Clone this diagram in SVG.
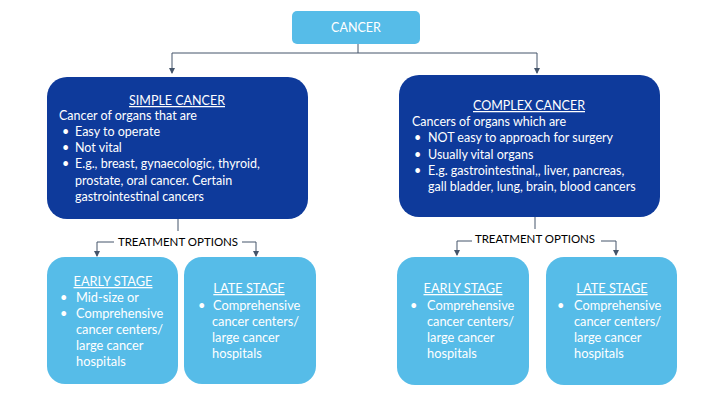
<svg xmlns="http://www.w3.org/2000/svg" width="720" height="405" viewBox="0 0 720 405">
<defs>
<marker id="ah" markerWidth="6" markerHeight="6" refX="5" refY="3" orient="auto" markerUnits="userSpaceOnUse">
<path d="M0,0 L6,3 L0,6 z" fill="#44546a"/>
</marker>
<style>
.light{fill:#56bce8}
.dark{fill:#0e3a9b}
text{font-family:Lato,"Liberation Sans",sans-serif;fill:#ffffff}
.b{font-size:12.5px}
.s{font-size:12.8px}
.t{text-anchor:middle;text-decoration:underline}
.lbl{font-size:11.5px;fill:#000000;text-anchor:middle}
.c{stroke:#44546a;stroke-width:1;fill:none}
</style>
</defs>
<rect width="720" height="405" fill="#ffffff"/>
<g id="connectors">
<path class="c" d="M358,44 V53"/>
<path class="c" d="M172,53 H537"/>
<path class="c" d="M172,53 V73" marker-end="url(#ah)"/>
<path class="c" d="M537,53 V73" marker-end="url(#ah)"/>
<path class="c" d="M178,219 V231"/>
<path class="c" d="M114,242 H97 V256" marker-end="url(#ah)"/>
<path class="c" d="M242,242 H256 V256" marker-end="url(#ah)"/>
<path class="c" d="M535,217 V229"/>
<path class="c" d="M472,241 H457 V255" marker-end="url(#ah)"/>
<path class="c" d="M601,241 H616 V255" marker-end="url(#ah)"/>
</g>
<g id="cancer">
<rect class="light" x="292" y="11" width="128" height="33" rx="5"/>
<text x="356" y="32" class="b" text-anchor="middle">CANCER</text>
</g>
<g id="simple">
<rect class="dark" x="47" y="77" width="261" height="142" rx="20"/>
<text x="177" y="105" class="b t">SIMPLE CANCER</text>
<text class="b" x="59" y="120">Cancer of organs that are</text>
<text class="b" x="62" y="136">•</text><text class="b" x="75" y="136">Easy to operate</text>
<text class="b" x="62" y="152">•</text><text class="b" x="75" y="152">Not vital</text>
<text class="b" x="62" y="168">•</text><text class="b" x="75" y="168">E.g., breast, gynaecologic, thyroid,</text>
<text class="b" x="75" y="185">prostate, oral cancer. Certain</text>
<text class="b" x="75" y="201">gastrointestinal cancers</text>
</g>
<g id="complex">
<rect class="dark" x="399" y="75" width="261" height="142" rx="20"/>
<text x="529" y="110" class="b t">COMPLEX CANCER</text>
<text class="b" x="412" y="126">Cancers of organs which are</text>
<text class="b" x="414" y="142">•</text><text class="b" x="428" y="142">NOT easy to approach for surgery</text>
<text class="b" x="414" y="159">•</text><text class="b" x="428" y="159">Usually vital organs</text>
<text class="b" x="414" y="175">•</text><text class="b" x="428" y="175">E.g. gastrointestinal,, liver, pancreas,</text>
<text class="b" x="428" y="191">gall bladder, lung, brain, blood cancers</text>
</g>
<g id="treat-left">
<text class="lbl" x="178" y="246">TREATMENT OPTIONS</text>
</g>
<g id="treat-right">
<text class="lbl" x="535" y="243">TREATMENT OPTIONS</text>
</g>
<g id="simple-early">
<rect class="light" x="47" y="257" width="131" height="127" rx="18"/>
<text x="113" y="286" class="s t">EARLY STAGE</text>
<text class="s" x="60" y="302">•</text><text class="s" x="76" y="302">Mid-size or</text>
<text class="s" x="60" y="318">•</text><text class="s" x="76" y="318">Comprehensive</text>
<text class="s" x="76" y="334">cancer centers/</text>
<text class="s" x="76" y="350">large cancer</text>
<text class="s" x="76" y="366">hospitals</text>
</g>
<g id="simple-late">
<rect class="light" x="184" y="257" width="132" height="127" rx="18"/>
<text x="249" y="293" class="s t">LATE STAGE</text>
<text class="s" x="198" y="310">•</text><text class="s" x="213" y="310">Comprehensive</text>
<text class="s" x="212" y="326">cancer centers/</text>
<text class="s" x="212" y="342">large cancer</text>
<text class="s" x="212" y="358">hospitals</text>
</g>
<g id="complex-early">
<rect class="light" x="397" y="257" width="132" height="128" rx="18"/>
<text x="463" y="293" class="s t">EARLY STAGE</text>
<text class="s" x="410" y="310">•</text><text class="s" x="427" y="310">Comprehensive</text>
<text class="s" x="427" y="326">cancer centers/</text>
<text class="s" x="427" y="342">large cancer</text>
<text class="s" x="427" y="358">hospitals</text>
</g>
<g id="complex-late">
<rect class="light" x="546" y="257" width="131" height="128" rx="18"/>
<text x="612" y="293" class="s t">LATE STAGE</text>
<text class="s" x="557" y="310">•</text><text class="s" x="574" y="310">Comprehensive</text>
<text class="s" x="574" y="326">cancer centers/</text>
<text class="s" x="574" y="342">large cancer</text>
<text class="s" x="574" y="358">hospitals</text>
</g>
</svg>
